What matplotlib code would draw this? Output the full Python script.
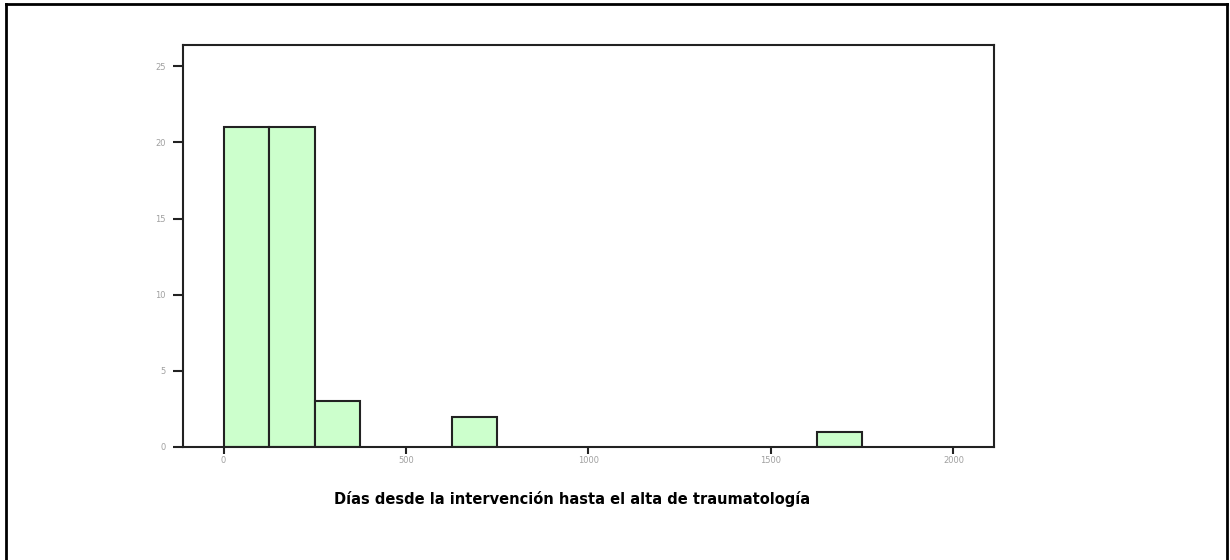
import matplotlib
matplotlib.use("Agg")
import matplotlib.pyplot as plt

bin_lefts = [0, 125, 250, 625, 1625]
counts = [21, 21, 3, 2, 1]
bin_width = 125
x_ticks = [0, 500, 1000, 1500, 2000]
y_ticks = [0, 5, 10, 15, 20, 25]
xlabel = "Días desde la intervención hasta el alta de traumatología"

fig = plt.figure(figsize=(12.3, 5.6), dpi=100)
fig.patch.set_facecolor("white")

# outer border (left, top, right)
fig.add_artist(plt.Line2D([0.0045, 0.0045], [0, 0.992], transform=fig.transFigure, color="black", lw=2))
fig.add_artist(plt.Line2D([0.0045, 0.9975], [0.992, 0.992], transform=fig.transFigure, color="black", lw=2))
fig.add_artist(plt.Line2D([0.9975, 0.9975], [0, 0.992], transform=fig.transFigure, color="black", lw=2))

ax = fig.add_axes([0.1488, 0.2018, 0.8081 - 0.1488, 0.9196 - 0.2018])
ax.bar(bin_lefts, counts, width=bin_width, align="edge",
       color="#CCFFCC", edgecolor="#222222", linewidth=1.5, zorder=2)

ax.set_xlim(-111, 2111)
ax.set_ylim(0, 26.4)
ax.set_xticks(x_ticks)
ax.set_yticks(y_ticks)
ax.set_xticklabels([str(v) for v in x_ticks])
ax.set_yticklabels([str(v) for v in y_ticks])
for s in ax.spines.values():
    s.set_linewidth(1.5)
    s.set_color("#222222")
ax.tick_params(axis="x", direction="out", length=5, width=1.5, color="#222222",
               labelsize=6, labelcolor="#A0A0A0", pad=1.5)
ax.tick_params(axis="y", direction="out", length=7.5, width=1.5, color="#222222",
               labelsize=6, labelcolor="#A0A0A0", pad=5)

fig.text(0.465, 0.109, xlabel, ha="center", va="center",
         fontsize=10.5, fontweight="bold", family="DejaVu Sans")

fig.savefig("out.png", dpi=100, facecolor="white")
